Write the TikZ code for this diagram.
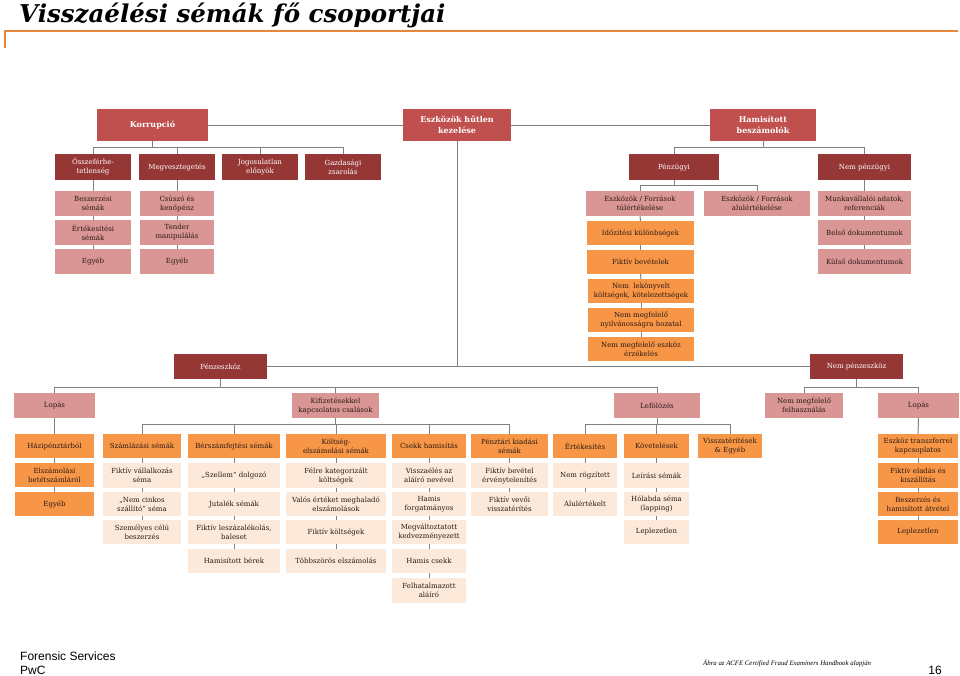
\documentclass[tikz,border=0pt]{standalone}
\usepackage{fontspec}
\setmainfont{DejaVu Serif}
\newfontfamily\lsans{Liberation Sans}
\newfontfamily\lserif{Liberation Serif}
\definecolor{topred}{HTML}{C0504D}
\definecolor{darkred}{HTML}{953735}
\definecolor{pinkc}{HTML}{D99694}
\definecolor{orangec}{HTML}{F79646}
\definecolor{peachc}{HTML}{FDE9D9}
\definecolor{linegray}{HTML}{808080}
\definecolor{rulec}{HTML}{E8873A}
\definecolor{txt}{HTML}{2B1A16}
\tikzset{
  base/.style={rectangle, inner sep=0pt, align=center, font=\fontsize{7}{9}\selectfont},
  topbox/.style={base, fill=topred, text=white, font=\bfseries\fontsize{8}{11}\selectfont},
  lvl/.style={base, fill=darkred, text=white},
  pnk/.style={base, fill=pinkc, text=txt},
  org/.style={base, fill=orangec, text=txt},
  pch/.style={base, fill=peachc, text=txt},
  conn/.style={draw=linegray, line width=1pt},
}
\newcommand\bx[7]{%
  \pgfmathsetmacro\bxw{#5-#3}\pgfmathsetmacro\bxh{#6-#4}%
  \pgfmathsetmacro\bxcx{(#3+#5)/2}\pgfmathsetmacro\bxcy{(#4+#6)/2}%
  \node[#1, minimum width=\bxw pt, minimum height=\bxh pt] (#2) at (\bxcx,\bxcy) {#7};}
\begin{document}
\begin{tikzpicture}[x=1pt,y=-1pt]
\useasboundingbox (0,0) rectangle (960,675);
% title
\node[anchor=base west, inner sep=0pt, font=\fontsize{24.5}{26}\bfseries\itshape\selectfont] (title) at (19,22) {Visszaélési sémák fő csoportjai};
\coordinate (rl) at (5,31);
\coordinate (rr) at (958,31);
\coordinate (rd) at (5,48);
\draw[rulec, line width=1.4pt] (rd) -- (rl) -- (rr);

% top level
\bx{topbox}{korr}{97}{109}{208}{141}{Korrupció}
\bx{topbox}{eszk}{403}{109}{511}{141}{Eszközök hűtlen\\kezelése}
\bx{topbox}{hamis}{710}{109}{816}{141}{Hamisított\\beszámolók}

% corruption
\bx{lvl}{osz}{55}{154}{131}{180}{Összeférhe-\\tetlenség}
\bx{lvl}{megv}{139}{154}{215}{180}{Megvesztegetés}
\bx{lvl}{jog}{222}{154}{298}{180}{Jogosulatlan\\előnyök}
\bx{lvl}{gazd}{305}{154}{381}{180}{Gazdasági\\zsarolás}
\bx{pnk}{besz}{55}{191}{131}{216}{Beszerzési\\sémák}
\bx{pnk}{ert}{55}{220}{131}{245}{Értékesítési\\sémák}
\bx{pnk}{egy1}{55}{249}{131}{274}{Egyéb}
\bx{pnk}{csus}{140}{191}{214}{216}{Csúszó és\\kenőpénz}
\bx{pnk}{tend}{140}{220}{214}{245}{Tender\\manipulálás}
\bx{pnk}{egy2}{140}{249}{214}{274}{Egyéb}

% financial statements
\bx{lvl}{penz}{629}{154}{719}{180}{Pénzügyi}
\bx{lvl}{nempenz}{818}{154}{911}{180}{Nem pénzügyi}
\bx{pnk}{tul}{586}{191}{694}{216}{Eszközök / Források\\túlértékelése}
\bx{pnk}{alul}{704}{191}{810}{216}{Eszközök / Források\\alulértékelése}
\bx{pnk}{munka}{818}{191}{911}{216}{Munkavállalói adatok,\\referenciák}
\bx{pnk}{belso}{818}{220}{911}{245}{Belső dokumentumok}
\bx{pnk}{kulso}{818}{249}{911}{274}{Külső dokumentumok}
\bx{org}{idoz}{587}{221}{694}{245}{Időzítési különbségek}
\bx{org}{fikbev}{587}{250}{694}{274}{Fiktív bevételek}
\bx{org}{nemlek}{588}{279}{694}{303}{Nem~ lekönyvelt\\költségek, kötelezettségek}
\bx{org}{nemnyil}{588}{308}{694}{332}{Nem megfelelő\\nyilvánosságra hozatal}
\bx{org}{nemeszk}{588}{337}{694}{361}{Nem megfelelő eszköz\\érzékelés}

% asset misappropriation
\bx{lvl}{pz}{174}{354}{267}{379}{Pénzeszköz}
\bx{lvl}{npz}{810}{354}{903}{379}{Nem pénzeszköz}
\bx{pnk}{lopas1}{14}{393}{95}{418}{Lopás}
\bx{pnk}{kif}{292}{393}{379}{418}{Kifizetésekkel\\kapcsolatos csalások}
\bx{pnk}{lefol}{614}{393}{700}{418}{Lefölözés}
\bx{pnk}{nemfel}{765}{393}{843}{418}{Nem megfelelő\\felhasználás}
\bx{pnk}{lopas2}{878}{393}{959}{418}{Lopás}

% bottom row: cash theft
\bx{org}{hazi}{15}{434}{94}{458}{Házipénztárból}
\bx{org}{elsz}{15}{463}{94}{487}{Elszámolási\\betétszámláról}
\bx{org}{egy3}{15}{492}{94}{516}{Egyéb}
% billing
\bx{org}{szaml}{103}{434}{181}{458}{Számlázási sémák}
\bx{pch}{fikvall}{103}{463}{181}{488}{Fiktív vállalkozás\\séma}
\bx{pch}{nemcink}{103}{492}{181}{516}{„Nem cinkos\\szállító” séma}
\bx{pch}{szemely}{103}{520}{181}{544}{Személyes célú\\beszerzés}
% payroll
\bx{org}{ber}{188}{434}{280}{458}{Bérszámfejtési sémák}
\bx{pch}{szell}{188}{463}{280}{488}{„Szellem” dolgozó}
\bx{pch}{jutal}{188}{492}{280}{516}{Jutalék sémák}
\bx{pch}{leszaz}{188}{520}{280}{544}{Fiktív leszázalékolás,\\baleset}
\bx{pch}{hamber}{188}{549}{280}{573}{Hamisított bérek}
% expense
\bx{org}{koltseg}{286}{434}{386}{458}{Költség-\\elszámolási sémák}
\bx{pch}{felre}{286}{463}{386}{488}{Félre kategorizált\\költségek}
\bx{pch}{valos}{286}{492}{386}{516}{Valós értéket meghaladó\\elszámolások}
\bx{pch}{fikkolt}{286}{520}{386}{544}{Fiktív költségek}
\bx{pch}{tobb}{286}{549}{386}{573}{Többszörös elszámolás}
% cheque
\bx{org}{csekk}{392}{434}{466}{458}{Csekk hamisítás}
\bx{pch}{vissza}{392}{463}{466}{488}{Visszaélés az\\aláíró nevével}
\bx{pch}{forg}{392}{492}{466}{516}{Hamis\\forgatmányos}
\bx{pch}{megvalt}{392}{520}{466}{544}{Megváltoztatott\\kedvezményezett}
\bx{pch}{hamcsekk}{392}{549}{466}{573}{Hamis csekk}
\bx{pch}{felhat}{392}{578}{466}{603}{Felhatalmazott\\aláíró}
% register disbursement
\bx{org}{penztar}{471}{434}{548}{458}{Pénztári kiadási\\sémák}
\bx{pch}{fikbevert}{471}{463}{548}{488}{Fiktív bevétel\\érvénytelenítés}
\bx{pch}{fikvevo}{471}{492}{548}{516}{Fiktív vevői\\visszatérítés}
% skimming
\bx{org}{ertek}{553}{434}{617}{458}{Értékesítés}
\bx{pch}{nemrog}{553}{463}{617}{488}{Nem rögzített}
\bx{pch}{alulert}{553}{492}{617}{516}{Alulértékelt}
\bx{org}{kovet}{624}{434}{689}{458}{Követelések}
\bx{pch}{leiras}{624}{463}{689}{488}{Leírási sémák}
\bx{pch}{holabda}{624}{492}{689}{516}{Hólabda séma\\(lapping)}
\bx{pch}{lepl1}{624}{520}{689}{544}{Leplezetlen}
\bx{org}{visszat}{698}{434}{762}{458}{Visszatérítések\\\& Egyéb}
% non-cash theft
\bx{org}{transz}{878}{434}{958}{458}{Eszköz transzferrel\\kapcsoplatos}
\bx{org}{fikelad}{878}{463}{958}{488}{Fiktív eladás és\\kiszállítás}
\bx{org}{beszham}{878}{492}{958}{516}{Beszerzés és\\hamisított átvétel}
\bx{org}{lepl2}{878}{520}{958}{544}{Leplezetlen}

% ---------- connectors ----------
\draw[conn] (korr.east) -- (eszk.west);
\draw[conn] (eszk.east) -- (hamis.west);
\foreach \c in {osz,megv,jog,gazd} \draw[conn] (korr.south) -- ++(0,6) -| (\c.north);
\draw[conn] (osz.south) -- (besz.north);
\draw[conn] (besz.south) -- (ert.north);
\draw[conn] (ert.south) -- (egy1.north);
\draw[conn] (megv.south) -- (csus.north);
\draw[conn] (csus.south) -- (tend.north);
\draw[conn] (tend.south) -- (egy2.north);

\foreach \c in {penz,nempenz} \draw[conn] (hamis.south) -- ++(0,6) -| (\c.north);
\foreach \c in {tul,alul} \draw[conn] (penz.south) -- ++(0,5) -| (\c.north);
\draw[conn] (tul.south) -- (idoz.north);
\draw[conn] (idoz.south) -- (fikbev.north);
\draw[conn] (fikbev.south) -- (nemlek.north);
\draw[conn] (nemlek.south) -- (nemnyil.north);
\draw[conn] (nemnyil.south) -- (nemeszk.north);
\draw[conn] (nempenz.south) -- (munka.north);
\draw[conn] (munka.south) -- (belso.north);
\draw[conn] (belso.south) -- (kulso.north);

\draw[conn] (pz.east) -- (npz.west);
\draw[conn] (eszk.south) -- (eszk.south |- pz.east);
\foreach \c in {lopas1,kif,lefol} \draw[conn] (pz.south) -- ++(0,8) -| (\c.north);
\foreach \c in {nemfel,lopas2} \draw[conn] (npz.south) -- ++(0,8) -| (\c.north);
\foreach \c in {szaml,ber,koltseg,csekk,penztar} \draw[conn] (kif.south) -- ++(0,6) -| (\c.north);
\foreach \c in {ertek,kovet,visszat} \draw[conn] (lefol.south) -- ++(0,6) -| (\c.north);
\draw[conn] (lopas1.south) -- (hazi.north);
\draw[conn] (hazi.south) -- (elsz.north);
\draw[conn] (elsz.south) -- (egy3.north);
\draw[conn] (lopas2.south) -- (transz.north);
\draw[conn] (transz.south) -- (fikelad.north);
\draw[conn] (fikelad.south) -- (beszham.north);
\draw[conn] (beszham.south) -- (lepl2.north);
\draw[conn] (szaml.south) -- (fikvall.north);
\draw[conn] (fikvall.south) -- (nemcink.north);
\draw[conn] (nemcink.south) -- (szemely.north);
\draw[conn] (ber.south) -- (szell.north);
\draw[conn] (szell.south) -- (jutal.north);
\draw[conn] (jutal.south) -- (leszaz.north);
\draw[conn] (leszaz.south) -- (hamber.north);
\draw[conn] (koltseg.south) -- (felre.north);
\draw[conn] (felre.south) -- (valos.north);
\draw[conn] (valos.south) -- (fikkolt.north);
\draw[conn] (fikkolt.south) -- (tobb.north);
\draw[conn] (csekk.south) -- (vissza.north);
\draw[conn] (vissza.south) -- (forg.north);
\draw[conn] (forg.south) -- (megvalt.north);
\draw[conn] (megvalt.south) -- (hamcsekk.north);
\draw[conn] (hamcsekk.south) -- (felhat.north);
\draw[conn] (penztar.south) -- (fikbevert.north);
\draw[conn] (fikbevert.south) -- (fikvevo.north);
\draw[conn] (ertek.south) -- (nemrog.north);
\draw[conn] (nemrog.south) -- (alulert.north);
\draw[conn] (kovet.south) -- (leiras.north);
\draw[conn] (leiras.south) -- (holabda.north);
\draw[conn] (holabda.south) -- (lepl1.north);

% footer
\node[anchor=base west, inner sep=0pt, align=left, font=\lsans\fontsize{12}{14}\selectfont] (foot) at (20,660) {Forensic Services};
\node[anchor=base west, inner sep=0pt, font=\lsans\fontsize{12}{14}\selectfont] (pwc) at (20,674) {PwC};
\node[anchor=base west, inner sep=0pt, font=\lserif\itshape\fontsize{6.8}{8}\selectfont] (src) at (703,665) {Ábra az ACFE Certified Fraud Examiners Handbook alapján};
\node[anchor=base east, inner sep=0pt, font=\lsans\fontsize{12}{14}\selectfont] (pg) at (942,674) {16};
\end{tikzpicture}
\end{document}
